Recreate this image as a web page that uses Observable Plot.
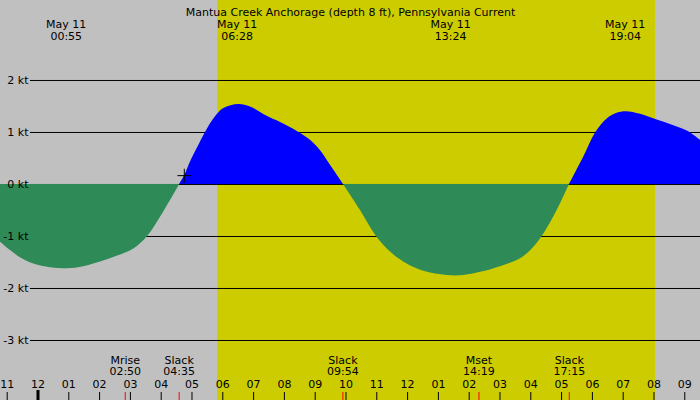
<!DOCTYPE html>
<html>
<head>
<meta charset="utf-8">
<script src="https://cdn.jsdelivr.net/npm/d3@7"></script>
<script src="https://cdn.jsdelivr.net/npm/@observablehq/plot@0.6"></script>
<style>
  html, body { margin: 0; padding: 0; background: #c0c0c0; }
  svg { display: block; }
</style>
</head>
<body>
<div id="chart"></div>
<script>
// ---- Data ----
const title = "Mantua Creek Anchorage (depth 8 ft), Pennsylvania Current";

// Current speed (kt) vs hours since midnight May 11
const hours = [-1.218,-0.893,-0.568,-0.136,0.406,0.948,1.487,2.029,2.571,3.110,3.545,3.977,4.302,4.6,
  4.789,4.951,5.169,5.438,5.708,6.032,6.519,6.899,7.442,7.873,8.416,8.847,9.172,9.497,9.92,
  10.471,10.990,11.445,11.987,12.526,13.286,13.825,14.367,15.016,15.666,16.045,16.370,16.857,17.256,
  17.721,18.101,18.481,18.805,19.107,19.562,20.104,20.643,21.078,21.510];
const speeds = [-1.11,-1.27,-1.41,-1.53,-1.60,-1.62,-1.58,-1.49,-1.38,-1.24,-1.01,-0.63,-0.31,0,
  0.2,0.43,0.69,1.0,1.26,1.46,1.54,1.49,1.31,1.19,1.02,0.85,0.65,0.37,0,
  -0.5,-1.0,-1.30,-1.53,-1.67,-1.75,-1.75,-1.69,-1.58,-1.43,-1.24,-1.0,-0.5,0,
  0.53,0.99,1.26,1.37,1.40,1.35,1.24,1.13,1.03,0.85];

// Max current labels (top)
const peakDates = ["May 11","May 11","May 11","May 11"];
const peakTimes = ["00:55","06:28","13:24","19:04"];

// Events (bottom)
const eventNames = ["Mrise","Slack","Slack","Mset","Slack"];
const eventTimes = ["02:50","04:35","09:54","14:19","17:15"];

// Daylight
const sunrise = "05:50";
const sunset = "20:03";

// Marker
const markerHour = [4.75];
const markerValue = [0.17];

// Axis ticks
const yLevels = [-3,-2,-1,0,1,2];
const hourTicks = d3.range(-1, 22);
const hourLabels = ["11","12","01","02","03","04","05","06","07","08","09","10","11",
  "12","01","02","03","04","05","06","07","08","09"];
const midnightHour = [0];

// ---- Helpers ----
const toH = s => { const [h, m] = s.split(":").map(Number); return h + m / 60; };
const W = 700, H = 400;
const xMin = -1.2175, xMax = 21.51;
const yMin = -4.154, yMax = 3.538;
const yAtPx = p => yMax - p * (yMax - yMin) / H;
const xAtPx = p => xMin + p * (xMax - xMin) / W;

// Split into tidal phases (each slack point shared)
const pts = [];
let seg = 0;
hours.forEach((h, i) => {
  const v = speeds[i];
  pts.push({h, v, seg});
  if (v === 0 && i > 0 && i < hours.length - 1) {
    seg++;
    pts.push({h, v, seg});
  }
});
const segSign = {};
pts.forEach(p => { segSign[p.seg] = (segSign[p.seg] || 0) + p.v; });
const flood = pts.filter(p => segSign[p.seg] > 0);
const ebb = pts.filter(p => segSign[p.seg] < 0);

const peaks = peakTimes.map((t, i) => ({h: toH(t), date: peakDates[i], time: t}));
const events = eventNames.map((n, i) => ({h: toH(eventTimes[i]), name: n, time: eventTimes[i]}));
const ticks = hourTicks.map((h, i) => ({h, label: hourLabels[i]}));

const tickTop = yAtPx(392);
const ruleStart = xAtPx(30);

const chart = Plot.plot({
  width: W,
  height: H,
  margin: 0,
  x: {domain: [xMin, xMax], axis: null},
  y: {domain: [yMin, yMax], axis: null},
  style: {fontFamily: "DejaVu Sans", fontSize: "11px", background: "#c0c0c0", color: "black"},
  marks: [
    Plot.rect([{a: toH(sunrise), b: toH(sunset)}], {x1: "a", x2: "b", fill: "#cccc00"}),
    Plot.ruleY(yLevels.filter(d => d !== 0), {x1: ruleStart, x2: xMax, y: d => d, stroke: "black"}),
    Plot.areaY(flood, {x: "h", y1: 0, y2: "v", z: "seg", fill: "#0000ff", curve: "catmull-rom"}),
    Plot.ruleY([0], {x1: ruleStart, x2: xMax, y: d => d, stroke: "black"}),
    Plot.areaY(ebb, {x: "h", y1: 0, y2: "v", z: "seg", fill: "#2e8b57", curve: "catmull-rom"}),
    Plot.text(yLevels, {x: xMin, y: d => d, text: d => `${d} kt`, textAnchor: "end", dx: 28, fill: "black"}),
    Plot.dot(markerHour.map((h, i) => ({h, v: markerValue[i]})), {x: "h", y: "v", symbol: "plus", r: 4.5, stroke: "black", strokeWidth: 1}),
    Plot.text([title], {frameAnchor: "top", text: d => d, dy: 8, fill: "black"}),
    Plot.text(peaks, {x: "h", frameAnchor: "top", text: "date", dy: 19.5, fill: "black"}),
    Plot.text(peaks, {x: "h", frameAnchor: "top", text: "time", dy: 31.5, fill: "black"}),
    Plot.text(events, {x: "h", frameAnchor: "bottom", text: "name", dy: -37, fill: "black"}),
    Plot.text(events, {x: "h", frameAnchor: "bottom", text: "time", dy: -25.5, fill: "black"}),
    Plot.text(ticks, {x: "h", frameAnchor: "bottom", text: "label", dy: -13, fill: "black"}),
    Plot.ruleX(hourTicks.filter(h => !midnightHour.includes(h)), {x: d => d, y1: tickTop, y2: yMin, stroke: "black"}),
    Plot.ruleX(midnightHour, {x: d => d, y1: yAtPx(390), y2: yMin, stroke: "black", strokeWidth: 3}),
    Plot.ruleX(events, {x: "h", y1: tickTop, y2: yMin, stroke: "red"})
  ]
});
document.getElementById("chart").appendChild(chart);
</script>
</body>
</html>
